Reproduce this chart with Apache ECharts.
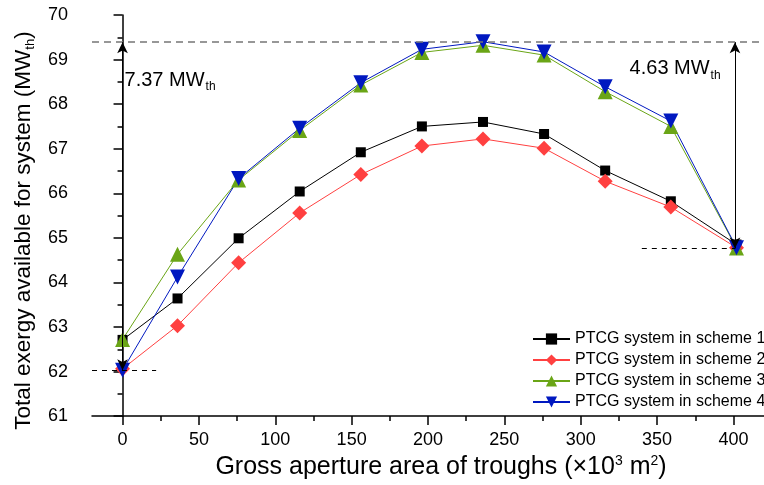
<!DOCTYPE html>
<html>
<head>
<meta charset="utf-8">
<script src="https://cdn.jsdelivr.net/npm/echarts@6/dist/echarts.min.js"></script>
<style>
    html, body { margin: 0; padding: 0; background: #fff; overflow: hidden; }
    #chart { width: 764px; height: 485px; }
</style>
</head>
<body>
<div id="chart"></div>
<script>
    // gross aperture area (x10^3 m2)
    var area = [0, 36, 76, 116, 156, 196, 236, 276, 316, 359, 402];
    var scheme1 = [62.71, 63.64, 64.99, 66.04, 66.92, 67.50, 67.60, 67.33, 66.51, 65.82, 64.85];
    var scheme2 = [62.06, 63.03, 64.44, 65.56, 66.42, 67.06, 67.22, 67.01, 66.27, 65.69, 64.78];
    var scheme3 = [62.72, 64.63, 66.30, 67.41, 68.43, 69.16, 69.32, 69.10, 68.28, 67.50, 64.77];
    var scheme4 = [62.03, 64.12, 66.33, 67.46, 68.48, 69.23, 69.40, 69.17, 68.39, 67.62, 64.78];
    var names = ['PTCG system in scheme 1', 'PTCG system in scheme 2', 'PTCG system in scheme 3', 'PTCG system in scheme 4'];

    var xTicks = [0, 50, 100, 150, 200, 250, 300, 350, 400];
    var xMinor = [25, 75, 125, 175, 225, 275, 325, 375];

    // annotation levels
    var peakLevel = 69.39;
    var leftBase = 62.03;
    var rightBase = 64.76;
    var rightX = 401;
    var leftGap = '7.37';
    var rightGap = '4.63';

    var font = "'Liberation Sans', Arial, sans-serif";
    var subRich = {
        a: { fontSize: 20, fontFamily: font, color: '#000' },
        sub: { fontSize: 12, fontFamily: font, color: '#000', padding: [13, 0, 0, 1] }
    };

    function pairs(ys) {
        return ys.map(function (y, i) { return [area[i], y]; });
    }

    var myChart = echarts.init(document.getElementById('chart'));

    var option = {
        animation: false,
        textStyle: { fontFamily: font },
        grid: { left: 92, right: 0, top: 15, bottom: 68 },
        legend: {
            orient: 'vertical',
            left: 532,
            top: 331,
            padding: 0,
            itemWidth: 37,
            itemHeight: 14,
            itemGap: 5,
            textStyle: { fontSize: 16, color: '#000', fontFamily: font, lineHeight: 14 },
            data: names
        },
        xAxis: [
            {
                type: 'value',
                min: -20,
                max: 420,
                name: '{a|Gross aperture area of troughs (×10}{sup|3}{a| m}{sup|2}{a|)}',
                nameLocation: 'middle',
                nameGap: 35,
                nameTextStyle: {
                    padding: [0, 0, 0, 26],
                    rich: {
                        a: { fontSize: 25, fontFamily: font, color: '#000' },
                        sup: { fontSize: 14, fontFamily: font, color: '#000', padding: [0, 0, 13, 0] }
                    }
                },
                axisLine: { onZero: false, lineStyle: { color: '#000', width: 1.5 } },
                axisTick: { customValues: xTicks, length: 9, lineStyle: { color: '#000', width: 1.5 } },
                axisLabel: { customValues: xTicks, fontSize: 18, color: '#000', margin: 15 },
                splitLine: { show: false }
            },
            {
                type: 'value',
                min: -20,
                max: 420,
                position: 'bottom',
                axisLine: { show: false },
                axisTick: { customValues: xMinor, length: 5, lineStyle: { color: '#000', width: 1.5 } },
                axisLabel: { show: false },
                splitLine: { show: false }
            }
        ],
        yAxis: {
            type: 'value',
            min: 61,
            max: 70,
            interval: 1,
            name: '{a|Total exergy available for system (MW}{sub|th}{a|)}',
            nameLocation: 'middle',
            nameGap: 55,
            nameTextStyle: {
                padding: [0, 30, 0, 0],
                rich: {
                    a: { fontSize: 22.5, fontFamily: font, color: '#000' },
                    sub: { fontSize: 13, fontFamily: font, color: '#000', padding: [13, 0, 0, 0] }
                }
            },
            axisLine: { show: true, lineStyle: { color: '#000', width: 1.5 } },
            axisTick: { show: true, length: 9, lineStyle: { color: '#000', width: 1.5 } },
            minorTick: { show: true, splitNumber: 2, length: 5, lineStyle: { color: '#000', width: 1.5 } },
            axisLabel: { fontSize: 18, color: '#000', margin: 24 },
            splitLine: { show: false }
        },
        series: [
            {
                name: names[0],
                type: 'line',
                data: pairs(scheme1),
                symbol: 'rect',
                symbolSize: 10,
                lineStyle: { color: '#000', width: 1 },
                itemStyle: { color: '#000' },
                markLine: {
                    silent: true,
                    symbol: 'none',
                    label: { show: false },
                    lineStyle: { color: '#767676', type: [7, 5], width: 1.5 },
                    data: [{ yAxis: peakLevel }]
                }
            },
            {
                name: names[1],
                type: 'line',
                data: pairs(scheme2),
                symbol: 'diamond',
                symbolSize: 15,
                lineStyle: { color: '#ff4040', width: 1 },
                itemStyle: { color: '#ff4040' },
                markLine: {
                    silent: true,
                    symbol: 'none',
                    label: { show: false },
                    lineStyle: { color: '#000', type: [5, 5], width: 1 },
                    data: [
                        [{ coord: [-20, leftBase] }, { coord: [22, leftBase] }],
                        [{ coord: [340, rightBase] }, { coord: [rightX, rightBase] }]
                    ]
                }
            },
            {
                name: names[2],
                type: 'line',
                data: pairs(scheme3),
                symbol: 'triangle',
                symbolSize: 15,
                lineStyle: { color: '#6aa516', width: 1 },
                itemStyle: { color: '#6aa516' },
                markPoint: {
                    silent: true,
                    symbol: 'circle',
                    symbolSize: 0,
                    label: { show: true, position: 'right', distance: 2, rich: subRich },
                    data: [
                        { coord: [0, 68.54], label: { formatter: '{a|' + leftGap + ' MW}{sub|th}' } },
                        { coord: [332, 68.79], label: { distance: 0, formatter: '{a|' + rightGap + ' MW}{sub|th}' } }
                    ]
                }
            },
            {
                name: names[3],
                type: 'line',
                data: pairs(scheme4),
                symbol: 'triangle',
                symbolRotate: 180,
                symbolSize: 15,
                lineStyle: { color: '#0018c0', width: 1 },
                itemStyle: { color: '#0018c0' },
                markLine: {
                    silent: true,
                    symbol: ['arrow', 'arrow'],
                    symbolSize: [8, 11],
                    label: { show: false },
                    lineStyle: { color: '#000', type: 'solid', width: 1 },
                    data: [
                        [{ coord: [0, leftBase] }, { coord: [0, peakLevel] }],
                        [{ coord: [rightX, rightBase] }, { coord: [rightX, peakLevel] }]
                    ]
                }
            }
        ]
    };

    myChart.setOption(option);
</script>
</body>
</html>
